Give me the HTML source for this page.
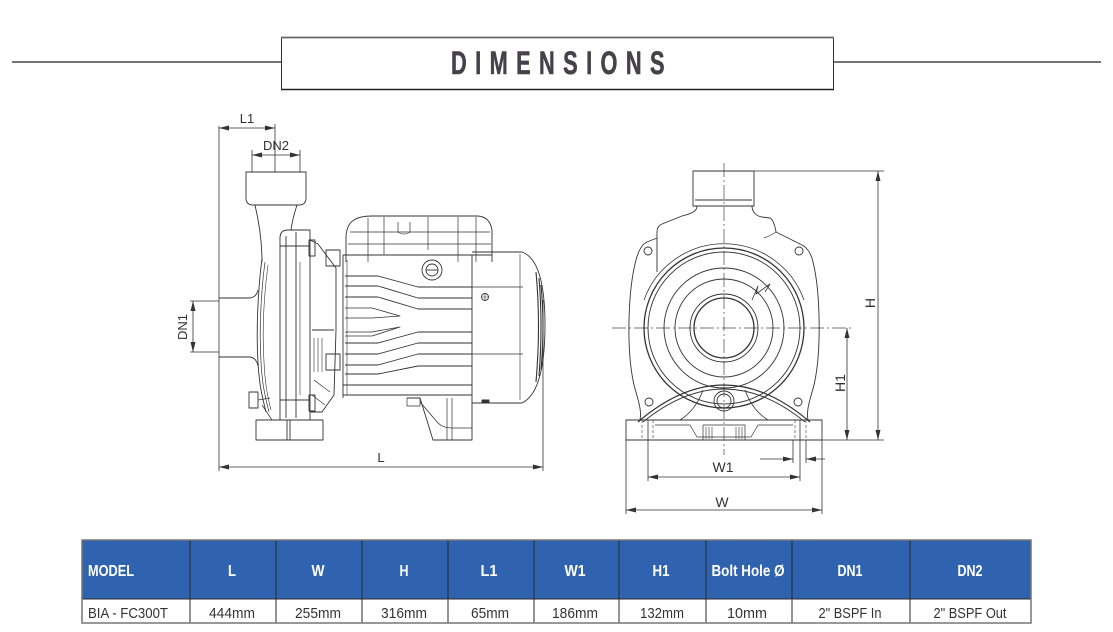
<!DOCTYPE html>
<html><head><meta charset="utf-8"><style>
html,body{margin:0;padding:0;background:#fff;}
svg{display:block;}
text{font-family:"Liberation Sans",sans-serif;}
</style></head><body>
<svg width="1113" height="632" viewBox="0 0 1113 632" xmlns="http://www.w3.org/2000/svg">
<defs>
<marker id="ar" markerUnits="userSpaceOnUse" markerWidth="11" markerHeight="6" refX="10" refY="2.5" orient="auto-start-reverse">
<path d="M0,0 L10,2.5 L0,5 Z" fill="#333"/>
</marker>
</defs>
<rect width="1113" height="632" fill="#fff"/>

<!-- Title -->
<line x1="12" y1="62" x2="281" y2="62" stroke="#222" stroke-width="1.3"/>
<line x1="834" y1="62" x2="1101" y2="62" stroke="#222" stroke-width="1.3"/>
<rect x="281.5" y="37.5" width="552" height="52" fill="#fff" stroke="#333" stroke-width="1"/>
<line x1="281" y1="37.5" x2="834" y2="37.5" stroke="#666" stroke-width="1.8"/>
<line x1="281" y1="89.5" x2="834" y2="89.5" stroke="#222" stroke-width="1.4"/>
<g transform="translate(451,74) scale(0.68,1)">
<text x="0" y="0" font-size="32" font-weight="bold" fill="#46424a" stroke="#46424a" stroke-width="0.6" textLength="314" lengthAdjust="spacing">DIMENSIONS</text>
</g>

<!-- LEFT DRAWING -->
<g fill="none" stroke="#333" stroke-width="0.9" stroke-linejoin="round">
<!-- dimension lines -->
<g stroke="#333" stroke-width="0.8">
<line x1="219" y1="126" x2="219" y2="471"/>
<line x1="275" y1="124" x2="275" y2="172"/>
<line x1="219" y1="128" x2="275" y2="128" marker-start="url(#ar)" marker-end="url(#ar)"/>
<line x1="252" y1="150" x2="252" y2="172"/>
<line x1="300" y1="150" x2="300" y2="172"/>
<line x1="252" y1="155" x2="300" y2="155" marker-start="url(#ar)" marker-end="url(#ar)"/>
<line x1="190" y1="301" x2="219" y2="301"/>
<line x1="190" y1="352" x2="219" y2="352"/>
<line x1="193" y1="301" x2="193" y2="352" marker-start="url(#ar)" marker-end="url(#ar)"/>
<line x1="543" y1="300" x2="543" y2="471"/>
<line x1="219" y1="467" x2="543" y2="467" marker-start="url(#ar)" marker-end="url(#ar)"/>
</g>
<!-- outlet -->
<path d="M246,172 H306 V198 Q306,205 299,205 H253 Q246,205 246,198 Z"/>
<path d="M255,205 C259,222 262,240 262,262"/>
<path d="M297,205 C294,214 292,222 291,230"/>
<!-- inlet -->
<path d="M219,298 H249 Q256,298 258,290"/>
<path d="M219,357 H249 Q256,357 258,366"/>
<!-- volute front -->
<path d="M262,258 C258,290 256,330 258,362 C259,385 263,400 266,412"/>
<path d="M265,262 C261,292 259,330 261,362 C262,385 266,400 269,412" stroke-width="0.7"/>
<path d="M268,265 C264,295 262,330 264,362 C265,385 268,398 271,410" stroke-width="0.6"/>
<!-- flange plate -->
<path d="M280,238 Q280,230 288,230 H310 V420 H280 Z"/>
<line x1="286" y1="236" x2="286" y2="418"/>
<line x1="296" y1="232" x2="296" y2="418"/>
<line x1="300" y1="262" x2="300" y2="395" stroke-width="0.6"/>
<line x1="280" y1="246" x2="310" y2="246"/>
<line x1="280" y1="400" x2="310" y2="400"/>
<!-- adapter bracket -->
<path d="M310,240 L318,244 L336,268 V330 L334,395 L322,412 L310,412"/>
<line x1="312" y1="330" x2="334" y2="330"/>
<path d="M314,338 V372 M318,338 V372 M322,338 V372" stroke-width="0.6"/>
<path d="M314,380 L330,392 M312,395 L325,405" stroke-width="0.7"/>
<!-- bolts -->
<rect x="309" y="240" width="6" height="16"/>
<rect x="326" y="250" width="14" height="16"/>
<rect x="326" y="354" width="14" height="16"/>
<rect x="309" y="395" width="6" height="16"/>
<rect x="249" y="392" width="9" height="16"/>
<path d="M258,400 L270,398 M262,405 L272,420" stroke-width="0.7"/>
<!-- foot -->
<rect x="256" y="420" width="67" height="20"/>
<line x1="287" y1="420" x2="287" y2="440"/>
<line x1="290" y1="420" x2="290" y2="440"/>
<!-- motor terminal box -->
<path d="M346,262 V236 Q347,224 354,220 Q360,216 372,216 H478 Q490,217 492,230 V262"/>
<path d="M350,232 H490 M348,244 H491" stroke-width="0.7"/>
<path d="M368,218 V262 M384,217 V255 M428,217 V250 M458,217 V262 M476,217 V262" stroke-width="0.7"/>
<path d="M398,222 V232 Q404,236 410,232 V222" stroke-width="0.7"/>
<!-- motor body -->
<path d="M343,255 V398 M343,255 H492"/>
<path d="M347,260 V395" stroke-width="0.6"/>
<line x1="472" y1="255" x2="472" y2="398"/>
<!-- fins -->
<path d="M345,276 H378 L418,287 H472"/>
<path d="M345,286 H378 L418,298 H472"/>
<path d="M345,297 H378 L418,309 H472"/>
<path d="M345,308 H372 L400,316 L372,318 H345" stroke-width="0.8"/>
<path d="M345,332 H372 L400,327 L372,336 H345" stroke-width="0.8"/>
<path d="M345,343 H378 L418,332 H472"/>
<path d="M345,354 H378 L418,343 H472"/>
<path d="M345,365 H378 L418,354 H472"/>
<path d="M345,374 H378 L418,366 H472"/>
<path d="M343,385 H472 M343,395 H472"/>
<!-- knob -->
<circle cx="432" cy="270" r="10"/>
<circle cx="432" cy="270" r="6"/>
<line x1="426" y1="270" x2="438" y2="270"/>
<!-- fan cover -->
<path d="M472,252 H522 Q545,260 545,325 Q545,392 522,403 H472"/>
<path d="M472,287 H523 M472,354 H523" stroke-width="0.8"/>
<line x1="520" y1="254" x2="520" y2="400" stroke-width="0.6"/>
<path d="M536,272 Q541,325 536,382 M539,278 Q543,325 539,376 M541,285 Q545,325 541,370" stroke="#333" stroke-width="1.1"/>
<circle cx="485" cy="297" r="3.5"/>
<path d="M482,297 H488 M485,294 V300" stroke-width="0.6"/>
<rect x="482" y="400" width="7" height="3" fill="#333"/>
<!-- motor foot -->
<path d="M407,398 H420 L433,440 H472 V398"/>
<path d="M420,402 L438,423 Q443,428 452,428 H472" stroke-width="0.8"/>
<path d="M447,398 V440 M452,398 V440" stroke-width="0.7"/>
<rect x="407" y="398" width="13" height="8" stroke-width="0.7"/>
</g>
<g font-size="13" fill="#333">
<text x="247" y="123" text-anchor="middle">L1</text>
<text x="276" y="150" text-anchor="middle">DN2</text>
<text x="381" y="462" text-anchor="middle">L</text>
<text transform="translate(187,327) rotate(-90)" text-anchor="middle">DN1</text>
</g>

<!-- RIGHT DRAWING -->
<g fill="none" stroke="#333" stroke-width="0.9" stroke-linejoin="round">
<!-- center lines -->
<line x1="724" y1="163" x2="724" y2="455" stroke="#444" stroke-width="0.7" stroke-dasharray="14,3,2,3"/>
<line x1="612" y1="328" x2="852" y2="328" stroke="#444" stroke-width="0.7" stroke-dasharray="14,3,2,3"/>
<!-- outlet -->
<rect x="693" y="171" width="61" height="35"/>
<line x1="695" y1="200" x2="752" y2="200"/>
<!-- shoulders and body -->
<path d="M697,206 C697,212 690,214 682,216 L662,224 Q657,226 657,232 V272"/>
<path d="M657,238 L647,242 Q640,245 636,260 C628,290 626,350 634,385 C638,400 642,410 640,420"/>
<path d="M752,206 C752,212 756,216 762,217 L770,218 Q774,220 776,232 L800,244 Q810,248 813,262 C820,290 822,350 814,385 C810,400 806,410 808,420"/>
<path d="M776,232 Q770,236 764,238" stroke-width="0.7"/>
<!-- circles -->
<path d="M644,300 A85,85 0 0 1 804,300" stroke-width="0.8"/>
<circle cx="724" cy="328" r="80" stroke-width="1.3"/>
<circle cx="724" cy="328" r="76"/>
<circle cx="724" cy="328" r="60"/>
<circle cx="724" cy="328" r="49"/>
<circle cx="724" cy="328" r="34"/>
<circle cx="724" cy="328" r="30" stroke-width="1.3"/>
<path d="M752,300 L758,286 L756,294 L770,284 L765,292" stroke-width="0.8"/>
<!-- bolt circles -->
<circle cx="648" cy="251" r="4"/>
<circle cx="799" cy="251" r="4"/>
<circle cx="649" cy="402" r="4"/>
<circle cx="798" cy="402" r="4"/>
<!-- bottom arc -->
<path d="M638,422 Q724,348 810,422" stroke-width="1.2"/>
<path d="M643,422 Q724,356 805,422"/>
<path d="M703,390 Q696,410 680,420 M745,390 Q752,410 768,420" stroke-width="0.8"/>
<circle cx="724" cy="401" r="10"/>
<circle cx="724" cy="401" r="7"/>
<!-- base -->
<rect x="626" y="420" width="196" height="20"/>
<path d="M655,425 H690 L697,437 H751 L758,425 H793" stroke-width="0.7"/>
<path d="M703,425 H745 V440 M703,425 V440" stroke-width="0.7"/>
<path d="M706,427 V439 M709,427 V439 M712,427 V439 M736,427 V439 M739,427 V439 M742,427 V439" stroke-width="0.6"/>
<path d="M642,420 V440 M653,420 V440 M795,420 V440 M806,420 V440" stroke-width="0.6" stroke-dasharray="3,2"/>
<!-- dims -->
<g stroke="#333" stroke-width="0.8">
<line x1="754" y1="171" x2="884" y2="171"/>
<line x1="822" y1="440" x2="884" y2="440"/>
<line x1="878" y1="171" x2="878" y2="440" marker-start="url(#ar)" marker-end="url(#ar)"/>
<line x1="847" y1="328" x2="847" y2="440" marker-start="url(#ar)" marker-end="url(#ar)"/>
<line x1="648" y1="420" x2="648" y2="481"/>
<line x1="800" y1="420" x2="800" y2="481"/>
<line x1="648" y1="477" x2="800" y2="477" marker-start="url(#ar)" marker-end="url(#ar)"/>
<line x1="626" y1="440" x2="626" y2="514"/>
<line x1="822" y1="440" x2="822" y2="514"/>
<line x1="626" y1="510" x2="822" y2="510" marker-start="url(#ar)" marker-end="url(#ar)"/>
<line x1="793" y1="440" x2="793" y2="463"/>
<line x1="806" y1="440" x2="806" y2="463"/>
<line x1="760" y1="459" x2="793" y2="459" marker-end="url(#ar)"/>
<line x1="825" y1="459" x2="806" y2="459" marker-end="url(#ar)"/>
</g>
</g>
<g font-size="14" fill="#333">
<text x="723" y="472" text-anchor="middle">W1</text>
<text x="722" y="507" text-anchor="middle">W</text>
<text transform="translate(875,303) rotate(-90)" text-anchor="middle">H</text>
<text transform="translate(845,383) rotate(-90)" text-anchor="middle">H1</text>
</g>

<!-- TABLE -->
<rect x="82" y="540" width="949" height="59" fill="#2f63b0"/>
<rect x="82" y="599" width="949" height="24" fill="#fff"/>
<g stroke="#2a2a2a" stroke-width="1">
<line x1="82" y1="599" x2="1031" y2="599"/>
<line x1="190" y1="540" x2="190" y2="623"/>
<line x1="276" y1="540" x2="276" y2="623"/>
<line x1="362" y1="540" x2="362" y2="623"/>
<line x1="448" y1="540" x2="448" y2="623"/>
<line x1="534" y1="540" x2="534" y2="623"/>
<line x1="619" y1="540" x2="619" y2="623"/>
<line x1="706" y1="540" x2="706" y2="623"/>
<line x1="792" y1="540" x2="792" y2="623"/>
<line x1="910" y1="540" x2="910" y2="623"/>
</g>
<rect x="82" y="540" width="949" height="83" fill="none" stroke="#777" stroke-width="1.5"/>
<g font-size="16" font-weight="bold" fill="#fff" text-anchor="middle">
<text x="111" y="576" textLength="46" lengthAdjust="spacingAndGlyphs">MODEL</text>
<text x="232" y="576" textLength="8" lengthAdjust="spacingAndGlyphs">L</text>
<text x="318" y="576" textLength="13" lengthAdjust="spacingAndGlyphs">W</text>
<text x="404" y="576" textLength="9" lengthAdjust="spacingAndGlyphs">H</text>
<text x="489" y="576" textLength="17" lengthAdjust="spacingAndGlyphs">L1</text>
<text x="575" y="576" textLength="21" lengthAdjust="spacingAndGlyphs">W1</text>
<text x="661" y="576" textLength="17" lengthAdjust="spacingAndGlyphs">H1</text>
<text x="748" y="576" textLength="73" lengthAdjust="spacingAndGlyphs">Bolt Hole Ø</text>
<text x="850" y="576" textLength="25" lengthAdjust="spacingAndGlyphs">DN1</text>
<text x="970" y="576" textLength="25" lengthAdjust="spacingAndGlyphs">DN2</text>
</g>
<g font-size="15" fill="#333" text-anchor="middle">
<text x="128" y="618" textLength="80" lengthAdjust="spacingAndGlyphs">BIA - FC300T</text>
<text x="232" y="618" textLength="46" lengthAdjust="spacingAndGlyphs">444mm</text>
<text x="318" y="618" textLength="46" lengthAdjust="spacingAndGlyphs">255mm</text>
<text x="404" y="618" textLength="46" lengthAdjust="spacingAndGlyphs">316mm</text>
<text x="490" y="618" textLength="38" lengthAdjust="spacingAndGlyphs">65mm</text>
<text x="575" y="618" textLength="46" lengthAdjust="spacingAndGlyphs">186mm</text>
<text x="662" y="618" textLength="44" lengthAdjust="spacingAndGlyphs">132mm</text>
<text x="747" y="618" textLength="40" lengthAdjust="spacingAndGlyphs">10mm</text>
<text x="850" y="618" textLength="63" lengthAdjust="spacingAndGlyphs">2" BSPF In</text>
<text x="970" y="618" textLength="73" lengthAdjust="spacingAndGlyphs">2" BSPF Out</text>
</g>
</svg>
</body></html>
